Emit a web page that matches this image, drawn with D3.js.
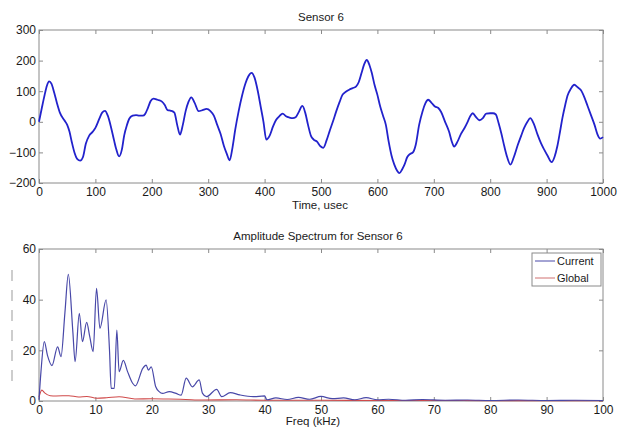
<!DOCTYPE html>
<html><head><meta charset="utf-8">
<script src="https://cdn.jsdelivr.net/npm/d3@7"></script>
<style>
html,body{margin:0;padding:0;background:#fff;}
svg text{font-family:"Liberation Sans",Arial,Helvetica,sans-serif;}
</style></head>
<body><svg id="c" width="624" height="428"></svg>
<script>
// ---- Data: Sensor 6 time signal (usec, value) ----
const timeUsec = [0,5,10,14,18,22,27,32,37,45,50,54,58,63,68,73,78,83,89,95,100,107,112,117,122,128,133,137,142,147,151,156,160,166,172,178,184,188,193,198,203,210,218,223,228,234,240,245,250,255,260,265,270,276,283,290,297,304,310,316,322,328,333,338,343,348,354,360,366,371,377,382,388,393,398,403,409,415,420,426,432,438,444,450,455,460,467,472,477,482,487,493,499,504,510,515,521,527,533,538,544,550,556,562,567,572,577,581,586,590,595,600,605,610,615,620,625,630,635,639,644,648,653,658,663,668,674,680,685,690,696,702,708,713,720,727,732,736,742,748,754,760,765,769,775,781,787,793,800,805,810,815,820,825,830,836,842,849,855,860,866,871,877,884,890,896,902,909,914,919,924,928,933,937,943,949,955,961,967,973,979,985,990,995,1000];
const sensorValues = [0,45,88,118,132,125,95,60,30,5,-10,-32,-65,-101,-122,-127,-115,-72,-45,-33,-20,10,30,36,20,-20,-60,-90,-113,-90,-45,-10,10,20,22,20,20,25,45,68,76,72,66,55,38,36,30,-10,-42,-10,35,65,80,62,35,38,42,35,20,-10,-40,-80,-105,-126,-85,-25,35,85,125,148,160,145,100,50,0,-58,-45,-15,5,18,27,18,14,12,15,30,52,30,-10,-45,-58,-65,-80,-85,-60,-32,0,34,65,88,98,105,110,115,130,160,190,202,185,160,120,88,50,20,-10,-65,-110,-140,-160,-168,-155,-140,-115,-105,-100,-75,-10,34,60,72,62,50,45,32,0,-32,-65,-81,-65,-40,-22,0,20,28,15,5,12,27,28,28,24,-5,-40,-80,-115,-140,-115,-75,-45,-21,0,12,-5,-42,-70,-92,-112,-132,-115,-80,-30,12,55,85,108,121,113,103,80,50,20,-10,-40,-55,-50];

// ---- Data: amplitude spectrum (kHz, amplitude) ----
const freqCurrent = [0,0.35,0.94,1.5,2.3,3.3,3.9,4.6,5.2,6.0,6.4,7.15,7.7,8.45,9.0,9.6,10.2,10.8,11.9,12.5,12.8,13.35,13.8,14.2,14.95,15.7,16.6,17.1,18.4,19.0,19.4,19.9,20.7,21.3,21.9,23.1,24.3,25.2,26.1,27.2,28.4,29.0,29.7,31.5,32.4,33.9,35.6,38,40,40.4,42,44,46,48,50,52,54,56,58,60,62,65,68,72,76,80,85,90,95,100];
const ampCurrent  = [0.5,11.6,23.4,18,14,21.4,17.5,35,50,27.4,15.5,34.6,23.4,31,25.4,19.5,44.5,28.7,39.9,20,5,5,28,11.6,16,11.6,7,6,12.9,14.2,12.2,13.5,5.6,3.7,3,3.7,3,2.3,9,5.6,8.3,3,1.7,4.6,1.7,3.3,2.4,1.7,2,0.5,1.2,0.6,1.4,0.7,1.8,0.9,1.2,0.5,1.3,0.5,0.7,0.3,0.6,0.3,0.4,0.2,0.4,0.2,0.3,0.2];
const freqGlobal = [0,0.5,1,2,3,5.3,7,8.5,10.2,12,14.2,17,20,23,26,29,35,40,50,60,70,80,90,100];
const ampGlobal  = [1.5,4.3,3.2,2.1,2.0,2.1,1.6,1.8,1.1,1.3,1.7,0.8,0.9,0.8,0.6,0.4,0.5,0.3,0.3,0.2,0.2,0.15,0.15,0.1];

const timeTicks = [0,100,200,300,400,500,600,700,800,900,1000];
const sensorTicks = [-200,-100,0,100,200,300];
const freqTicks = [0,10,20,30,40,50,60,70,80,90,100];
const ampTicks = [0,20,40,60];
const legendLabels = ["Current","Global"];

const svg = d3.select("#c");
const L = 39, R = 603;
const frameColor = "#8a8a8a", textColor = "#1a1a1a", fs = "12px";

function panel(top, bottom, xDom, yDom, xT, yT) {
  const x = d3.scaleLinear().domain(xDom).range([L, R]);
  const y = d3.scaleLinear().domain(yDom).range([bottom, top]);
  const g = svg.append("g");
  const style = a => a.call(s => s.select(".domain").remove())
    .call(s => s.selectAll("line").attr("stroke", frameColor))
    .call(s => s.selectAll("text").attr("fill", textColor).style("font-size", fs));
  g.append("g").attr("transform", `translate(0,${bottom})`)
    .call(d3.axisBottom(x).tickValues(xT).tickSize(-4).tickPadding(4).tickFormat(d3.format("d"))).call(style);
  g.append("g").attr("transform", `translate(0,${top})`)
    .call(d3.axisTop(x).tickValues(xT).tickSize(-4).tickFormat("")).call(style);
  g.append("g").attr("transform", `translate(${L},0)`)
    .call(d3.axisLeft(y).tickValues(yT).tickSize(-4).tickPadding(3).tickFormat(d3.format("d"))).call(style);
  g.append("g").attr("transform", `translate(${R},0)`)
    .call(d3.axisRight(y).tickValues(yT).tickSize(-4).tickFormat("")).call(style);
  g.append("rect").attr("x", L).attr("y", top).attr("width", R - L).attr("height", bottom - top)
    .attr("fill", "none").attr("stroke", frameColor).attr("stroke-width", 1);
  return {x, y, g};
}

// Top panel
const p1 = panel(30, 183, [0, 1000], [-200, 300], timeTicks, sensorTicks);
p1.g.append("path")
  .datum(timeUsec.map((t, i) => [t, sensorValues[i]]))
  .attr("fill", "none").attr("stroke", "#2222cc").attr("stroke-width", 1.8)
  .attr("stroke-linejoin", "round")
  .attr("d", d3.line().x(d => p1.x(d[0])).y(d => p1.y(d[1])).curve(d3.curveMonotoneX));

svg.append("text").attr("x", 321).attr("y", 21).attr("text-anchor", "middle")
  .style("font-size", "11.5px").attr("fill", textColor).text("Sensor 6");
svg.append("text").attr("x", 320).attr("y", 209).attr("text-anchor", "middle")
  .style("font-size", "11.5px").attr("fill", textColor).text("Time, usec");

// Bottom panel
const p2 = panel(249, 401, [0, 100], [0, 60], freqTicks, ampTicks);
p2.g.append("path")
  .datum(freqGlobal.map((f, i) => [f, ampGlobal[i]]))
  .attr("fill", "none").attr("stroke", "#d04a4a").attr("stroke-width", 1.1)
  .attr("d", d3.line().x(d => p2.x(d[0])).y(d => p2.y(d[1])).curve(d3.curveMonotoneX));
p2.g.append("path")
  .datum(freqCurrent.map((f, i) => [f, ampCurrent[i]]))
  .attr("fill", "none").attr("stroke", "#4848a8").attr("stroke-width", 1.2)
  .attr("stroke-linejoin", "round")
  .attr("d", d3.line().x(d => p2.x(d[0])).y(d => p2.y(d[1])).curve(d3.curveMonotoneX));

svg.append("text").attr("x", 318).attr("y", 240).attr("text-anchor", "middle")
  .style("font-size", "11.5px").attr("fill", textColor).text("Amplitude Spectrum for Sensor 6");
svg.append("text").attr("x", 313).attr("y", 425).attr("text-anchor", "middle")
  .style("font-size", "11.5px").attr("fill", textColor).text("Freq (kHz)");

// Faint left decoration
svg.append("line").attr("x1", 12).attr("x2", 12).attr("y1", 270).attr("y2", 389)
  .attr("stroke", "#bdbdbd").attr("stroke-width", 1.5).attr("stroke-dasharray", "11,9");

// Legend
const lg = svg.append("g");
lg.append("rect").attr("x", 532).attr("y", 253).attr("width", 69).attr("height", 33)
  .attr("fill", "#fff").attr("stroke", frameColor);
const lcol = ["#4848a8", "#d07070"];
legendLabels.forEach((t, i) => {
  const yy = 261 + i * 17;
  lg.append("line").attr("x1", 535).attr("x2", 555).attr("y1", yy).attr("y2", yy)
    .attr("stroke", lcol[i]).attr("stroke-width", 1);
  lg.append("text").attr("x", 557).attr("y", yy + 4).style("font-size", "11px")
    .attr("fill", textColor).text(t);
});
</script></body></html>
